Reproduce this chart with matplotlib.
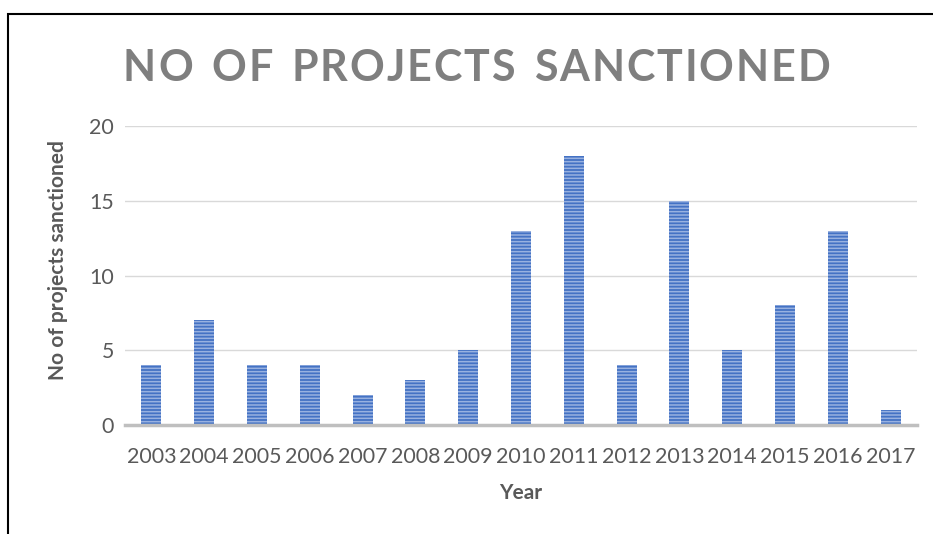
import matplotlib
matplotlib.use("Agg")
import matplotlib.pyplot as plt
from matplotlib.patches import Rectangle

years = ["2003", "2004", "2005", "2006", "2007", "2008", "2009", "2010",
         "2011", "2012", "2013", "2014", "2015", "2016", "2017"]
projects = [4, 7, 4, 4, 2, 3, 5, 13, 18, 4, 15, 5, 8, 13, 1]
y_ticks = [0, 5, 10, 15, 20]

plt.rcParams['font.family'] = ['Lato', 'DejaVu Sans']
plt.rcParams['hatch.linewidth'] = 1.1
plt.rcParams['hatch.color'] = '#98B1E0'

W, H = 933, 534
fig = plt.figure(figsize=(W / 100, H / 100), dpi=100)

# chart frame (open on the right and bottom edges)
fig.patches.append(Rectangle((8 / W, -0.1), 1.2, 1 - 14 / H + 0.1,
                             transform=fig.transFigure, fill=False,
                             edgecolor='black', linewidth=1.5))

ax = fig.add_axes([125 / W, 1 - 425 / H, (917 - 125) / W, (425 - 126) / H])
x = range(len(years))
ax.bar(x, projects, width=0.38, color='#4472C4', edgecolor='#98B1E0',
       linewidth=0, hatch='-----', zorder=3)

ax.set_xlim(-0.5, len(years) - 0.5)
ax.set_ylim(0, 20)
ax.set_yticks(y_ticks)
ax.set_xticks(list(x))
ax.set_xticklabels(years)
ax.tick_params(axis='both', length=0, labelsize=15.4, labelcolor='#595959')
ax.tick_params(axis='x', pad=16)
ax.tick_params(axis='y', pad=8)
ax.grid(axis='y', color='#D9D9D9', linewidth=1, zorder=0)
for s in ['top', 'right', 'left']:
    ax.spines[s].set_visible(False)
ax.spines['bottom'].set_color('#BFBFBF')
ax.spines['bottom'].set_linewidth(2.5)
ax.spines['bottom'].set_zorder(4)

ax.set_xlabel('Year', fontsize=15, fontweight='bold', color='#595959')
ax.set_ylabel('No of projects sanctioned', fontsize=15, fontweight='bold',
              color='#595959')
ax.yaxis.set_label_coords((58 - 125) / (917 - 125), 0.55)
ax.xaxis.set_label_coords(0.5, (425 - 493) / (425 - 126))
ax.xaxis.label.set_va('center')
ax.yaxis.label.set_va('center')

# letter-spaced title
title = "NO OF PROJECTS SANCTIONED"
fig.canvas.draw()
renderer = fig.canvas.get_renderer()
tkw = dict(fontsize=31, fontweight='bold', color='#7F7F7F', va='center', ha='left')
x0, x1, yc = 123, 830, 1 - 68 / H
widths = []
for ch in title:
    t = fig.text(0, 0, ch if ch != ' ' else 'N', **tkw)
    w = t.get_window_extent(renderer).width
    t.remove()
    widths.append(w * (0.45 if ch == ' ' else 1.0))
gap = ((x1 - x0) - sum(widths)) / (len(title) - 1)
pos = x0
for ch, w in zip(title, widths):
    if ch != ' ':
        fig.text(pos / W, yc, ch, **tkw)
    pos += w + gap

fig.savefig('out.png', dpi=100)
